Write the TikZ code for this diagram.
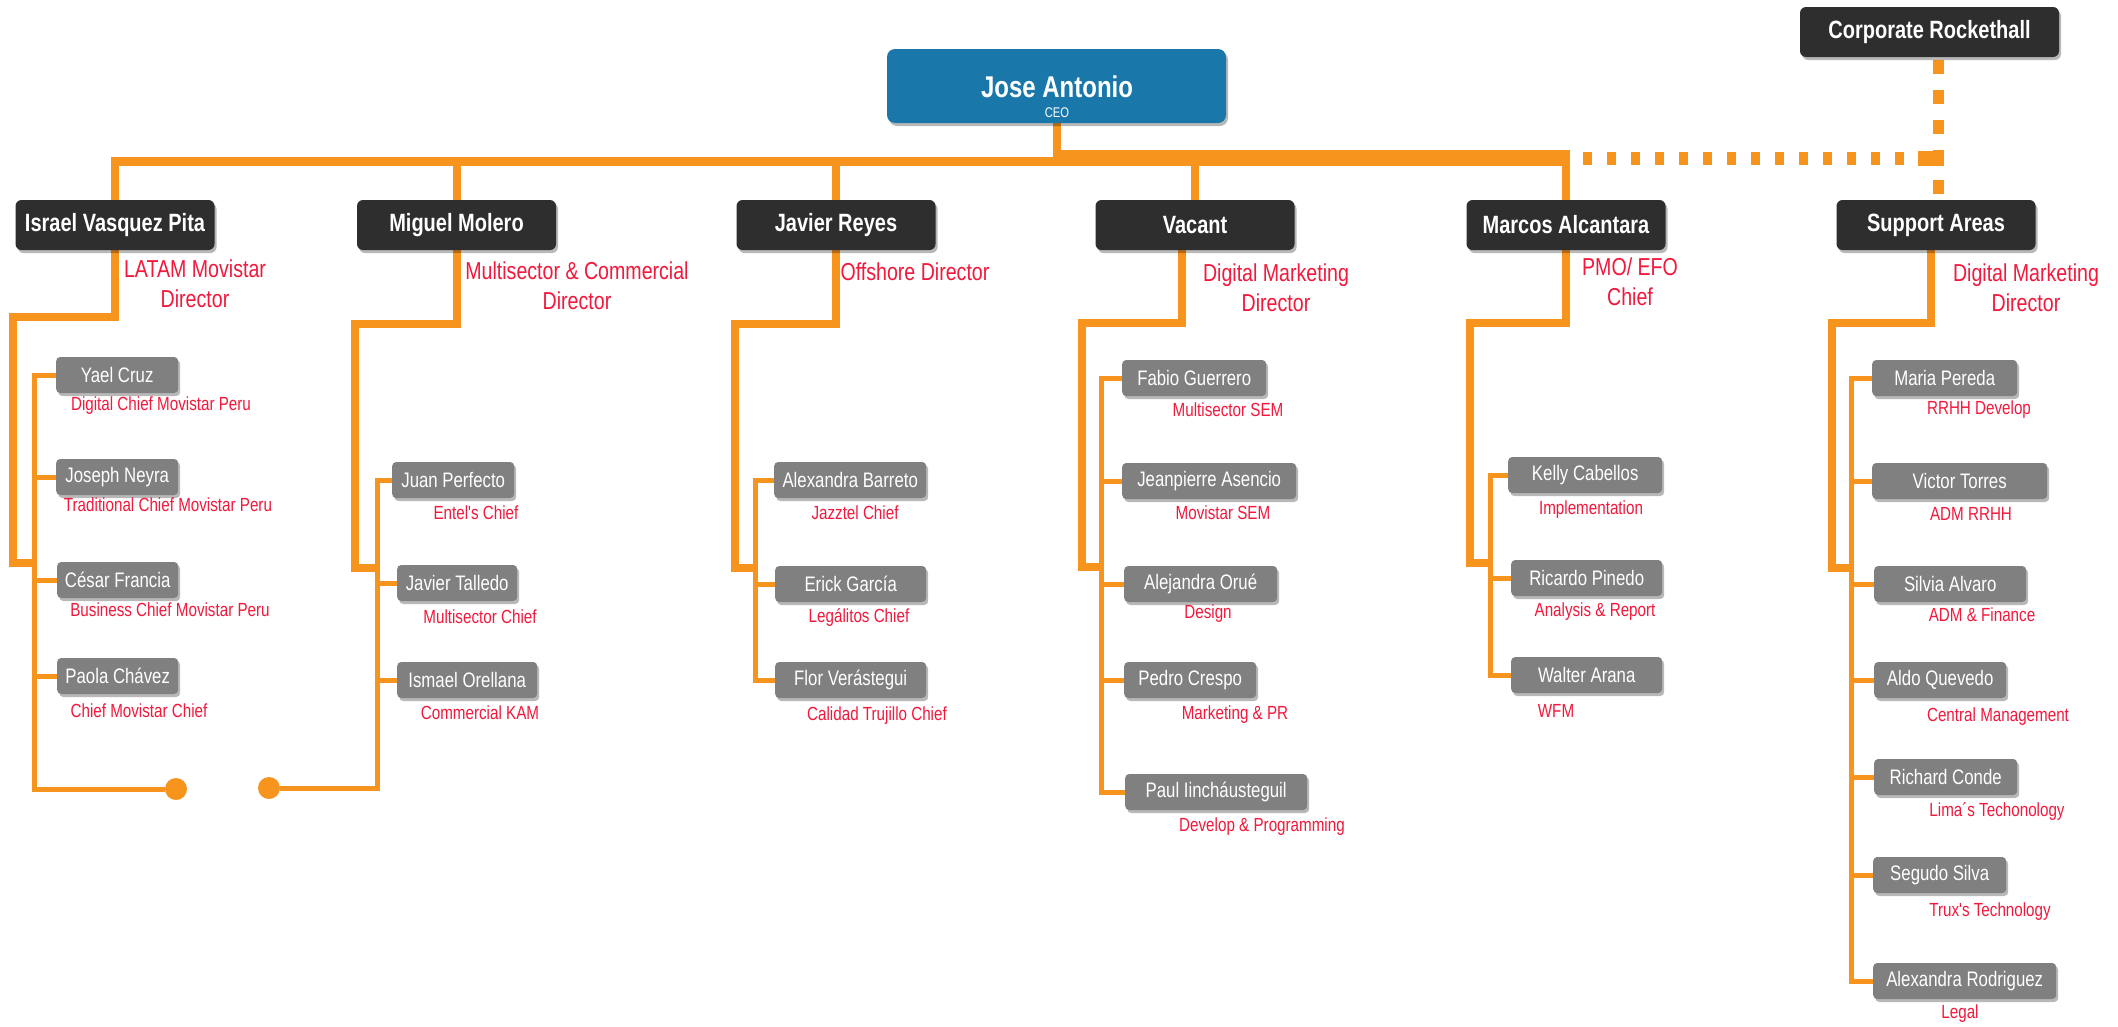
\documentclass[tikz,border=0pt]{standalone}
\usepackage{fontspec}
\setmainfont{Liberation Sans}
\newfontfamily\nar{Liberation Sans}[FakeStretch=0.8]
\usetikzlibrary{shadows,backgrounds}
\definecolor{org}{HTML}{F7941E}
\definecolor{dbox}{HTML}{2E2E2E}
\definecolor{ceob}{HTML}{1A77AA}
\definecolor{gbox}{HTML}{808080}
\definecolor{rtxt}{HTML}{F2193D}
\tikzset{
  shd/.style={drop shadow={shadow xshift=2pt,shadow yshift=-3pt,opacity=0.28,fill=black}},
  dirbox/.style={fill=dbox, rounded corners=6pt, text=white, inner sep=0pt,
    font=\nar\bfseries\fontsize{25}{30}\selectfont, minimum height=50pt, minimum width=199pt, shd},
  ceobox/.style={fill=ceob, rounded corners=8pt, inner sep=0pt, minimum height=74pt, minimum width=339pt, shd},
  pbox/.style={fill=gbox, rounded corners=4pt, text=white, inner sep=0pt, anchor=west,
    font=\nar\fontsize{21}{24}\selectfont, minimum height=36pt, shd},
  subt/.style={text=rtxt, inner sep=0pt, font=\nar\fontsize{19}{22}\selectfont},
  dtitle/.style={text=rtxt, inner sep=0pt, align=center, font=\nar\fontsize{24.5}{30}\selectfont},
  trunk/.style={draw=org, line width=8pt, line cap=butt, line join=miter},
  twig/.style={draw=org, line width=5pt, line cap=butt, line join=miter},
  enddot/.style={circle, fill=org, minimum size=22pt, inner sep=0pt},
}
\newcommand\pbx[5]{\node[pbox, minimum width=#3pt] (#1) at (#2,#4) {#5};}
\newcommand\sbt[4]{\node[subt] (#1) at (#2,#3) {#4};}
\begin{document}
\begin{tikzpicture}[x=1pt,y=-1pt]
\useasboundingbox (0,0) rectangle (2118,1026);

% top level
\node[dirbox, minimum width=259pt] (corp) at (1929.5,32) {Corporate Rockethall};
\node[ceobox] (ceo) at (1056.5,86) {};
\node[text=white, inner sep=0pt, font=\nar\bfseries\fontsize{30}{34}\selectfont] (ceoname) at (1057,87) {Jose Antonio};
\node[text=white, inner sep=0pt, font=\nar\fontsize{14}{16}\selectfont] (ceorole) at (1057,113) {CEO};

% directors
\node[dirbox] (israel)  at (115,225)    {Israel Vasquez Pita};
\node[dirbox] (miguel)  at (456.5,225)  {Miguel Molero};
\node[dirbox] (javier)  at (836,225)    {Javier Reyes};
\node[dirbox] (vacant)  at (1195,225)   {Vacant};
\node[dirbox] (marcos)  at (1566,225)   {Marcos Alcantara};
\node[dirbox] (support) at (1936,225)   {Support Areas};

\node[dtitle] (t1) at (195,284)  {LATAM Movistar\\Director};
\node[dtitle] (t2) at (577,286)  {Multisector \& Commercial\\Director};
\node[dtitle] (t3) at (915,272)  {Offshore Director};
\node[dtitle] (t4) at (1276,287.5) {Digital Marketing\\Director};
\node[dtitle] (t5) at (1630,282) {PMO/ EFO\\Chief};
\node[dtitle] (t6) at (2026,287.5) {Digital Marketing\\Director};

% column 1
\pbx{yael}{56}{122}{375}{Yael Cruz}
\pbx{joseph}{56}{122}{477}{Joseph Neyra}
\pbx{cesar}{57}{121}{580}{César Francia}
\pbx{paola}{57}{121}{676}{Paola Chávez}
\sbt{s1a}{161}{406}{Digital Chief Movistar Peru}
\sbt{s1b}{168}{505}{Traditional Chief Movistar Peru}
\sbt{s1c}{170}{610}{Business Chief Movistar Peru}
\sbt{s1d}{139}{711}{Chief Movistar Chief}
\node[enddot] (endA) at (176,789) {};

% column 2
\pbx{juan}{392}{122}{480}{Juan Perfecto}
\pbx{talledo}{397}{120}{583}{Javier Talledo}
\pbx{ismael}{397}{140}{680}{Ismael Orellana}
\sbt{s2a}{476}{513}{Entel's Chief}
\sbt{s2b}{480}{617}{Multisector Chief}
\sbt{s2c}{480}{713}{Commercial KAM}
\node[enddot] (endB) at (269,788) {};

% column 3
\pbx{barreto}{774}{152}{480}{Alexandra Barreto}
\pbx{erick}{775}{151}{584}{Erick García}
\pbx{flor}{775}{151}{680}{Flor Verástegui}
\sbt{s3a}{855}{513}{Jazztel Chief}
\sbt{s3b}{859}{617}{Legálitos Chief}
\sbt{s3c}{877}{716}{Calidad Trujillo Chief}

% column 4
\pbx{fabio}{1122}{144}{378}{Fabio Guerrero}
\pbx{jean}{1122}{174}{481}{Jeanpierre Asencio}
\pbx{aleja}{1124}{153}{584}{Alejandra Orué}
\pbx{pedro}{1124}{132}{680}{Pedro Crespo}
\pbx{paul}{1125}{182}{792}{Paul Iincháusteguil}
\sbt{s4a}{1228}{410}{Multisector SEM}
\sbt{s4b}{1223}{513}{Movistar SEM}
\sbt{s4c}{1208}{614}{Design}
\sbt{s4d}{1235}{715}{Marketing \& PR}
\sbt{s4e}{1262}{827}{Develop \& Programming}

% column 5
\pbx{kelly}{1508}{154}{475}{Kelly Cabellos}
\pbx{ricardo}{1511}{151}{578}{Ricardo Pinedo}
\pbx{walter}{1511}{151}{675}{Walter Arana}
\sbt{s5a}{1591}{510}{Implementation}
\sbt{s5b}{1595}{612}{Analysis \& Report}
\sbt{s5c}{1556}{711}{WFM}

% column 6
\pbx{maria}{1872}{145}{378}{Maria Pereda}
\pbx{victor}{1872}{175}{481}{Victor Torres}
\pbx{silvia}{1874}{152}{584}{Silvia Alvaro}
\pbx{aldo}{1874}{132}{680}{Aldo Quevedo}
\pbx{richard}{1874}{143}{777}{Richard Conde}
\pbx{segudo}{1873}{133}{875}{Segudo Silva}
\pbx{alexr}{1873}{183}{981}{Alexandra Rodriguez}
\sbt{s6a}{1979}{410}{RRHH Develop}
\sbt{s6b}{1971}{514}{ADM RRHH}
\sbt{s6c}{1982}{615}{ADM \& Finance}
\sbt{s6d}{1998}{717}{Central Management}
\sbt{s6e}{1997}{811}{Lima´s Techonology}
\sbt{s6f}{1990}{912}{Trux's Technology}
\sbt{s6g}{1960}{1014}{Legal}

\begin{pgfonlayer}{background}
\fill[white] (0,0) rectangle (2118,1026);
% top connectors
\draw[trunk] (ceo.south -| 1057,0) -- (1057,158);
\draw[trunk, line width=9pt] (111,161) -- (1057,161);
\draw[trunk, line width=16pt] (1053,158) -- (1570,158);
\draw[trunk] (israel.north |- 0,157) -- (israel.north);
\draw[trunk] (miguel.north |- 0,157) -- (miguel.north);
\draw[trunk] (javier.north |- 0,157) -- (javier.north);
\draw[trunk] (vacant.north |- 0,151) -- (vacant.north);
\draw[trunk] (marcos.north |- 0,151) -- (marcos.north);
\draw[org, line width=13pt, dash pattern=on 9pt off 15pt, dash phase=11pt] (1570,158.5) -- (1918,158.5);
\fill[org] (1918,151) rectangle (1944,166);
\draw[org, line width=11pt, dash pattern=on 14pt off 16pt, dash phase=27pt] (corp.south -| 1938,0) -- (support.north -| 1938,0);

% column 1
\draw[trunk] (israel.south) -- ++(0,67) -| (13,563) -- (34,563);
\draw[twig] (yael.west) -| (34,789) -- (endA);
\foreach \n in {joseph,cesar,paola} \draw[twig] (\n.west -| 34,0) -- (\n.west);
% column 2
\draw[trunk] (miguel.south) -- ++(0,74) -| (355,568) -- (377,568);
\draw[twig] (juan.west) -| (377,788) -- (endB);
\foreach \n in {talledo,ismael} \draw[twig] (\n.west -| 377,0) -- (\n.west);
% column 3
\draw[trunk] (javier.south) -- ++(0,74) -| (735,568) -- (755,568);
\draw[twig] (barreto.west) -| (flor.west -| 755,0) -- (flor.west);
\draw[twig] (erick.west -| 755,0) -- (erick.west);
% column 4
\draw[trunk] (vacant.south -| 1182,0) -- (1182,323) -| (1082,567) -- (1101,567);
\draw[twig] (fabio.west) -| (paul.west -| 1101,0) -- (paul.west);
\foreach \n in {jean,aleja,pedro} \draw[twig] (\n.west -| 1101,0) -- (\n.west);
% column 5
\draw[trunk] (marcos.south) -- ++(0,73) -| (1470,563) -- (1490,563);
\draw[twig] (kelly.west) -| (walter.west -| 1490,0) -- (walter.west);
\draw[twig] (ricardo.west -| 1490,0) -- (ricardo.west);
% column 6
\draw[trunk] (support.south -| 1931,0) -- (1931,323) -| (1832,568) -- (1851,568);
\draw[twig] (maria.west) -| (alexr.west -| 1851,0) -- (alexr.west);
\foreach \n in {victor,silvia,aldo,richard,segudo} \draw[twig] (\n.west -| 1851,0) -- (\n.west);
\end{pgfonlayer}
\end{tikzpicture}
\end{document}
